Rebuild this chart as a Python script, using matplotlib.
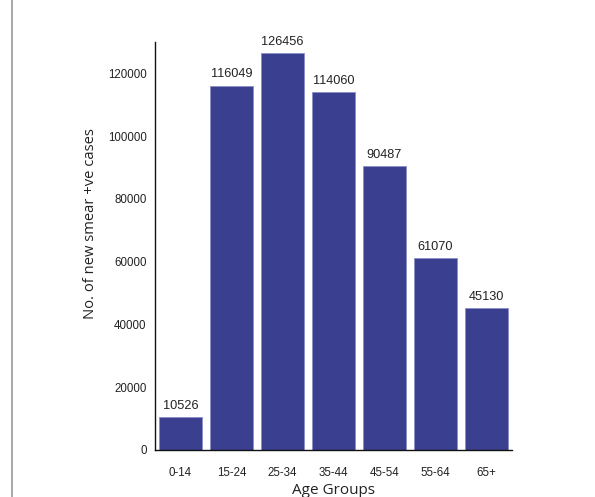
import matplotlib
matplotlib.use("Agg")
import matplotlib.pyplot as plt
from matplotlib.lines import Line2D

categories = ["0-14", "15-24", "25-34", "35-44", "45-54", "55-64", "65+"]
values = [10526, 116049, 126456, 114060, 90487, 61070, 45130]
yticks = [0, 20000, 40000, 60000, 80000, 100000, 120000]

fig = plt.figure(figsize=(5.95, 4.97), dpi=100)
ax = fig.add_axes([0.2605, 0.0946, 0.6, 0.821])

x = range(len(categories))
bars = ax.bar(x, values, width=0.84, color="#3a3f8f", edgecolor="#8a8fc8", linewidth=0.6)
for xi, v in zip(x, values):
    ax.text(xi, v + 1700, str(v), ha="center", va="bottom", fontsize=9.2,
            family="Liberation Sans", color="#222222")

ax.set_xlim(-0.5, 6.5)
ax.set_ylim(0, 130000)
ax.set_yticks(yticks)
ax.set_yticklabels([str(t) for t in yticks], family="Liberation Sans", fontsize=8.3, color="#222222")
ax.set_xticks(list(x))
ax.set_xticklabels(categories, family="Liberation Sans", fontsize=8.3, color="#222222")
ax.tick_params(axis="both", length=0)
ax.tick_params(axis="x", pad=12)
ax.tick_params(axis="y", pad=6)
for s in ["top", "right"]:
    ax.spines[s].set_visible(False)
for s in ["left", "bottom"]:
    ax.spines[s].set_color("#111111")
    ax.spines[s].set_linewidth(1.0)

ax.set_ylabel("No. of new smear +ve cases", family="Open Sans", fontsize=10.6, color="#222222")
ax.yaxis.set_label_coords(-0.16, 0.556)
ax.set_xlabel("Age Groups", family="Open Sans", fontsize=11, labelpad=3, color="#222222")

fig.add_artist(Line2D([12/595, 12/595], [0, 1], transform=fig.transFigure, color="#999999", linewidth=1.2))

fig.savefig("out.png", dpi=100)
